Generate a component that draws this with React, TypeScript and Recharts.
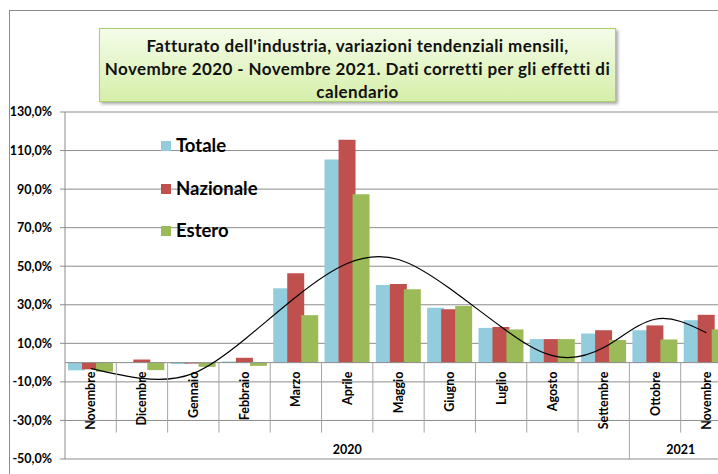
import React from 'react';
import { ComposedChart, Bar, Line, XAxis, YAxis, CartesianGrid, ReferenceLine } from 'recharts';

const months = ['Novembre', 'Dicembre', 'Gennaio', 'Febbraio', 'Marzo', 'Aprile', 'Maggio', 'Giugno', 'Luglio', 'Agosto', 'Settembre', 'Ottobre', 'Novembre'];
const years = [
  { label: '2020', start: 0, span: 11 },
  { label: '2021', start: 11, span: 2 },
];
const totale = [-4.0, 0.3, -0.7, 0.6, 38.6, 105.3, 40.2, 28.4, 18.0, 12.2, 15.1, 16.8, 22.0];
const nazionale = [-3.5, 1.6, -0.5, 2.5, 46.4, 115.6, 40.8, 27.7, 18.5, 12.2, 16.8, 19.3, 24.8];
const estero = [-4.7, -3.9, -2.2, -1.7, 24.6, 87.3, 38.1, 29.4, 17.2, 12.2, 11.7, 12.0, 17.2];
const trend = [-3.0, -8.2, -5.6, 12.0, 34.0, 51.4, 53.5, 38.4, 18.6, 3.6, 7.8, 22.5, 15.5];
const yTicks = [-50, -30, -10, 10, 30, 50, 70, 90, 110, 130];

const series = [
  { key: 'totale', name: 'Totale', color: '#93cddd' },
  { key: 'nazionale', name: 'Nazionale', color: '#c0504d' },
  { key: 'estero', name: 'Estero', color: '#9bbb59' },
];

const data = months.map((m, i) => ({
  idx: i,
  month: m,
  totale: totale[i],
  nazionale: nazionale[i],
  estero: estero[i],
  trend: trend[i],
}));

const W = 740;
const H = 474;
const M = { top: 112, right: 8, bottom: 14, left: 0 };
const Y_W = 65;
const X_H = 1;
const PLOT_L = M.left + Y_W;
const PLOT_W = W - M.right - PLOT_L;
const PLOT_TOP = M.top;
const PLOT_H = H - M.bottom - X_H - M.top;
const Y_MIN = -50;
const Y_MAX = 130;
const ZERO_Y = PLOT_TOP + (PLOT_H * Y_MAX) / (Y_MAX - Y_MIN);
const BW = PLOT_W / months.length;
const FONT = 'Lato, "Open Sans", sans-serif';
const GRID = '#8c8c8c';

const CatTick = (props: any) => {
  const { x, index } = props;
  const i = typeof index === 'number' ? index : props.payload?.value;
  const label = months[i];
  const top = ZERO_Y + 9;
  const right = x + BW / 2;
  const isYearEnd = years.some((y) => y.start + y.span - 1 === i);
  const yr = years.find((y) => y.start === i);
  return (
    <g>
      <text
        x={x}
        y={top}
        transform={`rotate(-90, ${x}, ${top})`}
        textAnchor="end"
        dominantBaseline="central"
        fontFamily={FONT}
        fontWeight={700}
        fontSize={12.5}
        fill="#000"
      >
        {label}
      </text>
      <line x1={right} x2={right} y1={ZERO_Y} y2={isYearEnd ? PLOT_TOP + PLOT_H : ZERO_Y + 70} stroke="#a6a6a6" strokeWidth={1} />
      {yr && (
        <text
          x={x - BW / 2 + (yr.span * BW) / 2}
          y={PLOT_TOP + PLOT_H - 5}
          textAnchor="middle"
          fontFamily={FONT}
          fontWeight={700}
          fontSize={12.5}
          fill="#000"
        >
          {yr.label}
        </text>
      )}
    </g>
  );
};

export default function App() {
  return (
    <div style={{ position: 'fixed', left: 0, top: 0, width: 718, height: 474, overflow: 'hidden', background: '#fff' }}>
      <div style={{ position: 'absolute', left: 9, top: 10, width: 900, height: 700, border: '1px solid #8c8c8c' }} />
      <div style={{ position: 'absolute', left: 0, top: 0 }}>
        <ComposedChart width={W} height={H} data={data} margin={M} barSize={17} barGap={-3} barCategoryGap={3}>
          <CartesianGrid horizontal vertical={false} stroke={GRID} strokeWidth={1} />
          <YAxis
            type="number"
            domain={[Y_MIN, Y_MAX]}
            ticks={yTicks}
            interval={0}
            width={Y_W}
            axisLine={{ stroke: GRID }}
            tickLine={{ stroke: GRID }}
            tickSize={5}
            tickMargin={8}
            tickFormatter={(v: number) => `${v},0%`}
            tick={{ fontFamily: FONT, fontWeight: 700, fontSize: 12.5, fill: '#000' }}
          />
          <XAxis
            dataKey="idx"
            type="category"
            height={X_H}
            interval={0}
            axisLine={false}
            tickLine={false}
            tick={<CatTick />}
          />
          <ReferenceLine y={0} stroke={GRID} strokeWidth={1} />
          {series.map((s) => (
            <Bar key={s.key} dataKey={s.key} name={s.name} fill={s.color} isAnimationActive={false} />
          ))}
          <Line dataKey="trend" type="natural" stroke="#000" strokeWidth={1.2} dot={false} isAnimationActive={false} />
        </ComposedChart>
      </div>
      <div
        style={{
          position: 'absolute',
          left: 99,
          top: 28,
          width: 517,
          height: 74,
          background: 'linear-gradient(#f4fce9, #d6efaa)',
          border: '1px solid #a9d06a',
          boxShadow: '2px 2px 3px rgba(0,0,0,0.35)',
          fontFamily: FONT,
          fontWeight: 700,
          fontSize: 17,
          letterSpacing: 0.4,
          lineHeight: '23px',
          textAlign: 'center',
          color: '#111',
          paddingTop: 5,
          boxSizing: 'border-box',
        }}
      >
        Fatturato dell'industria, variazioni tendenziali mensili,
        <br />
        Novembre 2020 - Novembre 2021. Dati corretti per gli effetti di
        <br />
        calendario
      </div>
      <div style={{ position: 'absolute', left: 161, top: 124 }}>
        {series.map((s) => (
          <div key={s.key} style={{ display: 'flex', alignItems: 'center', height: 42.5 }}>
            <div style={{ width: 10, height: 10, background: s.color, marginRight: 5, marginTop: 2 }} />
            <span style={{ fontFamily: FONT, fontWeight: 700, fontSize: 18.5, color: '#000' }}>{s.name}</span>
          </div>
        ))}
      </div>
    </div>
  );
}
